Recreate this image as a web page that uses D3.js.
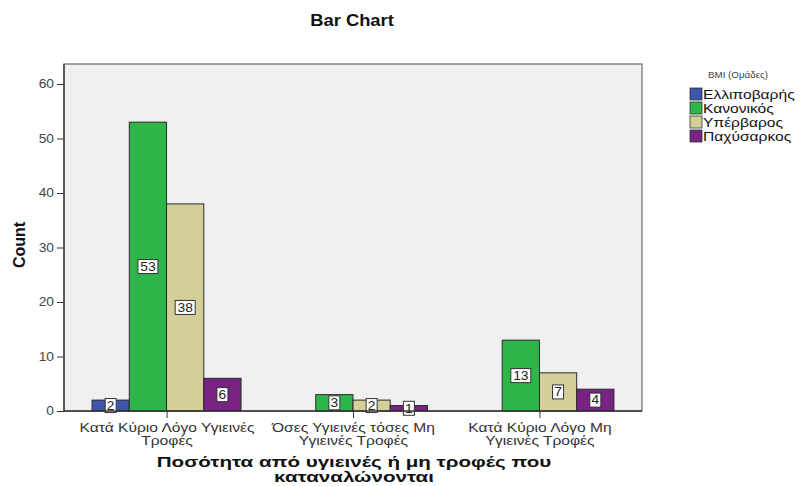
<!DOCTYPE html>
<html>
<head>
<meta charset="utf-8">
<script src="https://cdn.jsdelivr.net/npm/d3@7"></script>
<style>
  html, body { margin: 0; padding: 0; background: #fff; }
  svg { display: block; font-family: "Liberation Sans", Arial, sans-serif; }
</style>
</head>
<body>
<svg id="chart" width="800" height="486"></svg>
<script>
// Categories on the x axis (each may span two lines)
const categories = [
  ["Κατά Κύριο Λόγο Υγιεινές", "Τροφές"],
  ["Όσες Υγιεινές τόσες  Μη", "Υγιεινές Τροφές"],
  ["Κατά Κύριο Λόγο Μη", "Υγιεινές Τροφές"]
];
const categoryKeys = ["healthy", "equal", "unhealthy"];

// BMI groups (legend series)
const seriesNames = ["Ελλιποβαρής", "Κανονικός", "Υπέρβαρος", "Παχύσαρκος"];
const seriesColors = ["#3d55aa", "#2eb64a", "#d4cf99", "#782283"];

// Counts per series, one value per category
const underweight = [2, 0, 0];
const normal = [53, 3, 13];
const overweight = [38, 2, 7];
const obese = [6, 1, 4];
const seriesValues = [underweight, normal, overweight, obese];

const yTicks = [0, 10, 20, 30, 40, 50, 60];

const svg = d3.select("#chart");
const plot = { left: 64, right: 642, top: 64, bottom: 411 };

// Text in this chart is drawn horizontally widened
const wide = (sel, sx) => sel.attr("transform", `scale(${sx},1)`);

const x = d3.scalePoint().domain(categoryKeys).range([plot.left, plot.right]).padding(0.55);
const groupWidth = 149;
const xs = d3.scaleBand().domain(d3.range(seriesNames.length)).range([-groupWidth / 2, groupWidth / 2]).padding(0);
const y = d3.scaleLinear().domain([0, 60]).range([plot.bottom, 84]);

// Plot background
svg.append("rect")
  .attr("x", plot.left).attr("y", plot.top)
  .attr("width", plot.right - plot.left).attr("height", plot.bottom - plot.top)
  .attr("fill", "#f0f0f0")
  .attr("stroke", "#6b6b6b").attr("stroke-width", 1.2);

// Bars
const bars = [];
seriesValues.forEach((vals, si) => {
  vals.forEach((v, ci) => {
    if (v > 0) bars.push({ si, ci, v });
  });
});

svg.append("g").selectAll("rect")
  .data(bars)
  .join("rect")
  .attr("x", d => x(categoryKeys[d.ci]) + xs(d.si))
  .attr("y", d => y(d.v))
  .attr("width", xs.bandwidth())
  .attr("height", d => y(0) - y(d.v))
  .attr("fill", d => seriesColors[d.si])
  .attr("stroke", "#2a2a2a").attr("stroke-width", 1);

// Value labels in white boxes at the middle of each bar
const labels = svg.append("g").selectAll("g")
  .data(bars)
  .join("g")
  .attr("transform", d => `translate(${x(categoryKeys[d.ci]) + xs(d.si) + xs.bandwidth() / 2},${(y(0) + y(d.v)) / 2})`);
labels.append("rect")
  .attr("x", d => String(d.v).length > 1 ? -10 : -5.5)
  .attr("y", -7)
  .attr("width", d => String(d.v).length > 1 ? 20 : 11)
  .attr("height", 14)
  .attr("fill", "#fff")
  .attr("stroke", "#333").attr("stroke-width", 1);
labels.append("text")
  .attr("text-anchor", "middle")
  .attr("dy", "0.36em")
  .attr("font-size", 12)
  .attr("fill", "#222")
  .call(wide, 1.15)
  .text(d => d.v);

// Axis lines
svg.append("line")
  .attr("x1", plot.left).attr("x2", plot.left)
  .attr("y1", plot.top).attr("y2", plot.bottom)
  .attr("stroke", "#333").attr("stroke-width", 1.3);
svg.append("line")
  .attr("x1", plot.left).attr("x2", plot.right)
  .attr("y1", plot.bottom).attr("y2", plot.bottom)
  .attr("stroke", "#333").attr("stroke-width", 1.3);

// Y axis
const yAxis = svg.append("g")
  .attr("transform", `translate(${plot.left},0)`)
  .call(d3.axisLeft(y).tickValues(yTicks).tickSize(7).tickPadding(3));
yAxis.select(".domain").remove();
yAxis.selectAll(".tick line").attr("stroke", "#333");
yAxis.selectAll(".tick text")
  .attr("font-size", 12).attr("fill", "#444")
  .attr("font-family", "Liberation Sans, Arial, sans-serif")
  .attr("transform", "translate(-10,0) scale(1.15,1) translate(10,0)");

// X axis
const xAxis = svg.append("g")
  .attr("transform", `translate(0,${plot.bottom})`)
  .call(d3.axisBottom(x).tickSize(7).tickFormat(""));
xAxis.select(".domain").remove();
xAxis.selectAll(".tick line").attr("stroke", "#333");
xAxis.selectAll(".tick").each(function (d, i) {
  const t = d3.select(this).append("text")
    .attr("text-anchor", "middle")
    .attr("font-size", 12)
    .attr("fill", "#333")
    .attr("font-family", "Liberation Sans, Arial, sans-serif")
    .call(wide, 1.3);
  categories[i].forEach((line, li) => {
    t.append("tspan").attr("x", 0).attr("y", 21 + li * 13).text(line);
  });
});

// Title
svg.append("g").attr("transform", "translate(352,26)")
  .append("text")
  .attr("text-anchor", "middle")
  .attr("font-size", 17).attr("font-weight", "bold").attr("fill", "#111")
  .call(wide, 1.08)
  .text("Bar Chart");

// Y axis title
svg.append("text")
  .attr("transform", "translate(25,245) rotate(-90)")
  .attr("text-anchor", "middle")
  .attr("font-size", 16).attr("font-weight", "bold").attr("fill", "#111")
  .text("Count");

// X axis title
const xt = svg.append("g").attr("transform", "translate(354,0)")
  .append("text")
  .attr("text-anchor", "middle")
  .attr("font-size", 14.5).attr("font-weight", "bold").attr("fill", "#111")
  .call(wide, 1.42);
xt.append("tspan").attr("x", 0).attr("y", 467).text("Ποσότητα από υγιεινές ή μη τροφές που");
xt.append("tspan").attr("x", 0).attr("y", 482).text("καταναλώνονται");

// Legend
const legend = svg.append("g").attr("transform", "translate(690,0)");
legend.append("g").attr("transform", "translate(48,78)")
  .append("text")
  .attr("text-anchor", "middle")
  .attr("font-size", 8.5).attr("fill", "#444")
  .call(wide, 1.15)
  .text("BMI (Ομάδες)");
const items = legend.selectAll("g.item")
  .data(seriesNames)
  .join("g")
  .attr("class", "item")
  .attr("transform", (d, i) => `translate(0,${88 + i * 14})`);
items.append("rect")
  .attr("width", 12).attr("height", 12)
  .attr("fill", (d, i) => seriesColors[i])
  .attr("stroke", "#333").attr("stroke-width", 0.8);
items.append("g").attr("transform", "translate(13,11)")
  .append("text")
  .attr("font-size", 13).attr("fill", "#111")
  .call(wide, 1.2)
  .text(d => d);
</script>
</body>
</html>
